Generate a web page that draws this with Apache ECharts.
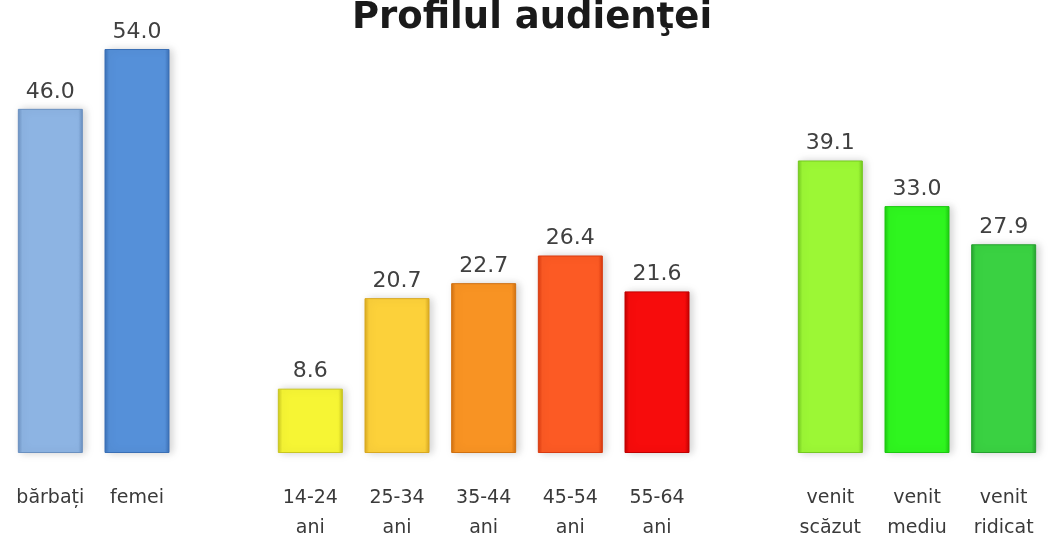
<!DOCTYPE html>
<html>
<head>
<meta charset="utf-8">
<script src="https://cdn.jsdelivr.net/npm/echarts@6/dist/echarts.min.js"></script>
<style>html,body{margin:0;padding:0;background:#fff}#c{width:1049px;height:548px}</style>
</head>
<body>
<div id="c"></div>
<script>
var categories = ['bărbați', 'femei', '', '14-24\nani', '25-34\nani', '35-44\nani', '45-54\nani', '55-64\nani', '', 'venit\nscăzut', 'venit\nmediu', 'venit\nridicat'];
var values = [46.0, 54.0, null, 8.6, 20.7, 22.7, 26.4, 21.6, null, 39.1, 33.0, 27.9];
var colors = ['#8DB4E3', '#5590D9', null, '#F6F534', '#FCD13A', '#F89323', '#FC5A24', '#F70C0C', null, '#9CF735', '#2FF51F', '#3AD142'];
var edges = ['#6A90C0', '#3A6FB5', null, '#C8C520', '#D8A820', '#D07010', '#D83A10', '#C00000', null, '#74C820', '#1CC810', '#25A02E'];
var title = 'Profilul audienţei';

var data = values.map(function (v, i) {
  if (v === null) return { value: null };
  return {
    value: v,
    itemStyle: {
      color: new echarts.graphic.LinearGradient(0, 0, 1, 0, [
        { offset: 0, color: edges[i] },
        { offset: 0.07, color: colors[i] },
        { offset: 0.93, color: colors[i] },
        { offset: 1, color: edges[i] }
      ]),
      borderColor: edges[i],
      borderWidth: 1,
      shadowColor: 'rgba(0,0,0,0.18)',
      shadowBlur: 8,
      shadowOffsetX: 3,
      shadowOffsetY: 0
    }
  };
});

var chart = echarts.init(document.getElementById('c'));
chart.setOption({
  animation: false,
  title: {
    text: title,
    left: 532,
    textAlign: 'center',
    top: 0,
    padding: 0,
    textStyle: { fontFamily: 'DejaVu Sans', fontWeight: 'bold', fontSize: 37, color: '#1a1a1a' }
  },
  grid: { left: 7, right: 2, top: 49, bottom: 95 },
  xAxis: {
    type: 'category',
    data: categories,
    axisLine: { show: false },
    axisTick: { show: false },
    axisLabel: {
      interval: 0,
      margin: 30,
      fontFamily: 'DejaVu Sans',
      fontSize: 19,
      lineHeight: 30,
      color: '#3a3a3a'
    }
  },
  yAxis: {
    type: 'value',
    min: 0,
    max: 54,
    show: false,
    splitLine: { show: false }
  },
  series: [{
    type: 'bar',
    data: data,
    barWidth: 65,
    label: {
      show: true,
      position: 'top',
      distance: 6,
      fontFamily: 'DejaVu Sans',
      fontSize: 22,
      color: '#404040',
      formatter: function (p) { return p.value == null ? '' : p.value.toFixed(1); }
    }
  }]
});
</script>
</body>
</html>
